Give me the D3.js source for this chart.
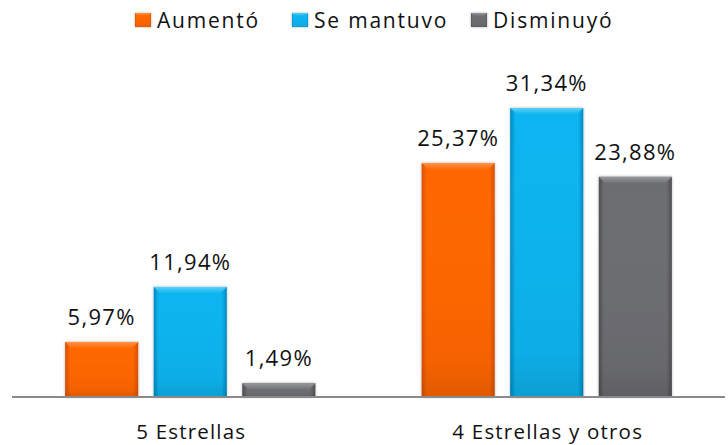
<!DOCTYPE html>
<html>
<head>
<meta charset="utf-8">
<script src="https://cdn.jsdelivr.net/npm/d3@7"></script>
<style>
  html, body { margin: 0; padding: 0; background: #fff; }
  svg { display: block; font-family: 'Open Sans', sans-serif; }
</style>
</head>
<body>
<div class="svg-container"></div>
<script>
var categories = ['5 Estrellas', '4 Estrellas y otros'];
var seriesNames = ['Aumentó', 'Se mantuvo', 'Disminuyó'];
var aumento = [5.97, 25.37];
var seMantuvo = [11.94, 31.34];
var disminuyo = [1.49, 23.88];
var valueLabels = [
	['5,97%', '25,37%'],
	['11,94%', '31,34%'],
	['1,49%', '23,88%']
];
var seriesValues = [aumento, seMantuvo, disminuyo];

var width = 728;
var height = 445;
var colours = [
	{ base: '#ff6600', light: '#ff9248', dark: '#d95000' },
	{ base: '#09b4ef', light: '#5ccdf6', dark: '#0289c2' },
	{ base: '#6c6d71', light: '#97989b', dark: '#4c4d50' }
];

// Create SVG element
var svg = d3.select('.svg-container')
	.append('svg')
	.attr('width', width)
	.attr('height', height);

var defs = svg.append('defs');

// Shading gradients for the bevelled bars
colours.forEach(function(c, i) {
	var g = defs.append('linearGradient')
		.attr('id', 'side' + i)
		.attr('x1', 0).attr('x2', 1).attr('y1', 0).attr('y2', 0);
	g.append('stop').attr('offset', '0%').attr('stop-color', c.dark);
	g.append('stop').attr('offset', '7%').attr('stop-color', c.base);
	g.append('stop').attr('offset', '93%').attr('stop-color', c.base);
	g.append('stop').attr('offset', '100%').attr('stop-color', c.dark);

	var v = defs.append('linearGradient')
		.attr('id', 'vert' + i)
		.attr('x1', 0).attr('x2', 0).attr('y1', 0).attr('y2', 1);
	v.append('stop').attr('offset', '0%').attr('stop-color', '#fff').attr('stop-opacity', 0);
	v.append('stop').attr('offset', '85%').attr('stop-color', '#000').attr('stop-opacity', 0.04);
	v.append('stop').attr('offset', '100%').attr('stop-color', '#000').attr('stop-opacity', 0.12);

	var t = defs.append('linearGradient')
		.attr('id', 'top' + i)
		.attr('x1', 0).attr('x2', 0).attr('y1', 0).attr('y2', 1);
	t.append('stop').attr('offset', '0%').attr('stop-color', c.light);
	t.append('stop').attr('offset', '100%').attr('stop-color', c.base);
});

var shadow = defs.append('filter')
	.attr('id', 'shadow')
	.attr('x', '-10%').attr('y', '-10%').attr('width', '120%').attr('height', '120%');
shadow.append('feGaussianBlur').attr('in', 'SourceAlpha').attr('stdDeviation', 1.5).attr('result', 'blur');
shadow.append('feComponentTransfer').append('feFuncA').attr('type', 'linear').attr('slope', 0.3);
var merge = shadow.append('feMerge');
merge.append('feMergeNode');
merge.append('feMergeNode').attr('in', 'SourceGraphic');

// Set up scales
var x0 = d3.scaleBand()
	.domain(categories)
	.range([12, 725]);

var x1 = d3.scaleBand()
	.domain(d3.range(seriesNames.length))
	.range([0, x0.bandwidth()])
	.paddingInner(0.175)
	.paddingOuter(0.6);

var yScale = d3.scaleLinear()
	.domain([0, 35])
	.range([397, 74.3]);

// Bevelled bar drawing
function bevelBar(sel, x, y, w, h, i, bevel) {
	var g = sel.append('g').attr('filter', 'url(#shadow)');
	g.append('rect')
		.attr('x', x).attr('y', y)
		.attr('width', w).attr('height', h)
		.attr('fill', 'url(#side' + i + ')');
	g.append('rect')
		.attr('x', x).attr('y', y)
		.attr('width', w).attr('height', h)
		.attr('fill', 'url(#vert' + i + ')');
	var b = Math.min(bevel, h / 2);
	g.append('path')
		.attr('d', 'M' + x + ',' + y + 'H' + (x + w) + 'L' + (x + w - b) + ',' + (y + b) +
			'H' + (x + b) + 'Z')
		.attr('fill', 'url(#top' + i + ')');
}

// Draw bars
var groups = svg.selectAll('g.series')
	.data(seriesValues)
	.enter()
	.append('g')
	.attr('class', 'series');

groups.each(function(vals, si) {
	var g = d3.select(this);
	vals.forEach(function(v, ci) {
		var bx = x0(categories[ci]) + x1(si);
		var by = yScale(v);
		bevelBar(g, bx, by, x1.bandwidth(), yScale(0) - by, si, 7);
		g.append('text')
			.attr('x', bx + x1.bandwidth() / 2)
			.attr('y', by - 17)
			.attr('text-anchor', 'middle')
			.attr('font-size', 22)
			.attr('letter-spacing', 1.3)
			.attr('fill', '#111')
			.text(valueLabels[si][ci]);
	});
});

// Axis line
svg.append('line')
	.attr('x1', 12).attr('x2', 725)
	.attr('y1', 397).attr('y2', 397)
	.attr('stroke', '#8a8a8a')
	.attr('stroke-width', 2);

// Category labels
svg.selectAll('text.cat')
	.data(categories)
	.enter()
	.append('text')
	.attr('class', 'cat')
	.attr('x', function(d) { return x0(d) + x0.bandwidth() / 2 + 1; })
	.attr('y', 439)
	.attr('text-anchor', 'middle')
	.attr('font-size', 20.5)
	.attr('letter-spacing', 1.2)
	.attr('fill', '#111')
	.text(function(d) { return d; });

// Legend
var legendX = [135, 292, 471];
var legend = svg.selectAll('g.legend')
	.data(seriesNames)
	.enter()
	.append('g')
	.attr('class', 'legend');

legend.each(function(d, i) {
	var g = d3.select(this);
	bevelBar(g, legendX[i], 13, 16, 14, i, 3);
	g.append('text')
		.attr('x', legendX[i] + 22)
		.attr('y', 28)
		.attr('font-size', 21)
		.attr('letter-spacing', 1.8)
		.attr('fill', '#111')
		.text(d);
});
</script>
</body>
</html>
